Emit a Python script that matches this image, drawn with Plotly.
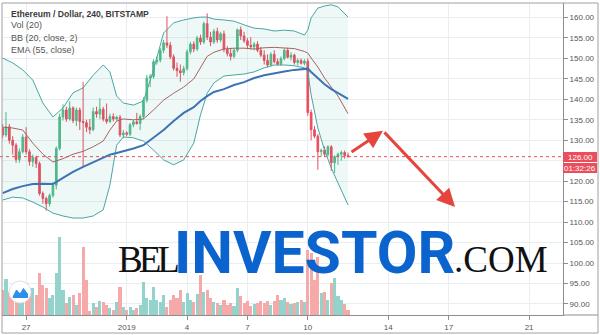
import plotly.graph_objects as go
import pandas as pd

# ---------------- data ----------------
times = pd.date_range("2018-12-25 20:00", periods=104, freq="4h")

opens = [133.0,131.3,133.3,130.0,128.8,125.3,127.2,130.8,127.2,124.8,125.8,124.3,117.0,115.8,114.5,116.5,119.0,128.0,135.7,137.4,
         135.2,137.9,134.8,137.4,134.6,134.3,133.2,132.6,137.0,136.4,137.6,135.2,134.6,135.8,135.2,135.6,131.3,131.8,131.5,133.8,
         134.5,134.1,135.8,139.8,145.2,145.6,149.2,149.6,152.0,153.8,153.2,150.4,147.6,147.0,146.5,147.5,151.6,153.5,152.3,155.0,
         154.0,158.5,155.2,154.0,156.6,154.5,156.0,152.2,151.2,150.5,152.0,157.0,155.5,154.3,153.2,152.8,153.5,152.0,150.8,149.5,
         148.4,151.0,149.2,148.6,150.0,152.0,150.3,150.8,149.0,149.5,148.8,149.3,136.8,132.6,131.0,127.2,127.6,126.6,128.4,124.5,
         126.0,126.6,127.0,126.3]
highs = [134.0,136.9,134.0,131.0,129.3,128.0,131.5,133.2,127.8,126.5,126.2,124.8,117.5,116.2,117.0,119.8,128.5,136.5,138.8,138.2,
         139.5,138.3,138.0,138.0,144.2,135.0,135.2,138.0,138.2,140.3,138.2,139.0,136.5,136.6,136.0,136.2,132.5,132.2,134.2,135.0,
         136.7,136.3,140.5,146.0,146.2,149.8,150.5,152.6,154.5,160.3,154.0,151.0,149.0,148.5,148.2,152.2,154.0,154.2,155.5,155.8,
         159.0,161.0,156.5,157.2,157.5,156.5,156.8,153.0,152.6,152.5,157.3,157.8,156.5,155.0,155.2,154.0,154.2,152.8,152.0,151.0,
         151.5,152.0,150.0,150.5,152.5,152.6,151.5,151.2,150.0,150.0,149.8,150.0,137.5,133.5,131.5,128.0,128.5,128.8,128.8,126.3,
         127.0,127.5,127.5,127.0]
lows = [130.5,130.8,129.2,126.5,124.5,124.5,126.8,126.5,123.8,123.5,123.2,116.5,114.5,112.8,113.8,116.0,118.0,127.5,134.8,134.5,
        134.8,134.2,133.5,132.5,123.6,132.0,131.5,132.2,135.5,135.2,134.6,134.0,134.2,134.6,134.8,130.8,130.5,131.0,131.0,133.2,
        133.8,132.5,135.2,139.2,143.0,145.0,148.5,149.0,151.3,152.5,149.8,147.0,145.5,144.3,145.8,147.0,151.0,151.5,151.8,153.3,
        153.5,154.5,153.0,153.5,153.8,154.0,151.5,150.5,149.5,150.0,151.5,154.5,153.8,152.5,152.2,152.0,151.5,150.3,148.5,147.8,
        148.0,148.8,148.2,148.2,149.5,150.0,149.5,148.5,148.3,148.5,148.3,136.0,130.0,130.5,122.8,126.0,126.0,126.0,122.5,122.0,
        124.0,125.0,125.5,125.8]
closes = [131.3,133.3,130.0,128.8,125.3,127.2,130.8,127.2,124.8,125.8,124.3,117.0,115.8,114.5,116.5,119.0,128.0,135.7,137.4,135.2,
          137.9,134.8,137.4,134.6,134.3,133.2,132.6,137.0,136.4,137.6,135.2,134.6,135.8,135.2,135.6,131.3,131.8,131.5,133.8,134.5,
          134.1,135.8,139.8,145.2,145.6,149.2,149.6,152.0,153.8,153.2,150.4,147.6,147.0,146.5,147.5,151.6,153.5,152.3,155.0,154.0,
          158.5,155.2,154.0,156.6,154.5,156.0,152.2,151.2,150.5,152.0,157.0,155.5,154.3,153.2,152.8,153.5,152.0,150.8,149.5,148.4,
          151.0,149.2,148.6,150.0,152.0,150.3,150.8,149.0,149.5,148.8,149.3,136.8,132.6,131.0,127.2,127.6,126.6,128.4,124.5,126.0,
          126.6,127.0,126.3,126.0]
volume = [25,36,23,25,30,20,25,32,25,27,20,42,30,27,17,20,42,78,25,12,
          18,20,10,22,68,35,4,12,8,14,13,10,7,5,13,28,8,5,8,5,
          7,10,33,17,15,28,15,13,20,8,15,20,17,25,13,22,15,13,21,40,
          23,25,17,13,12,10,15,10,12,9,27,19,12,14,9,11,12,14,12,14,
          10,14,20,15,17,13,11,12,13,15,13,65,62,35,58,22,23,15,32,37,
          19,15,11,5]

ind_idx = [0,3,6,9,12,15,18,21,24,27,30,32,34,36,39,42,45,48,51,54,57,59,61,63,66,69,72,75,78,81,84,87,90,91,92,94,96,98,100,103]
bb_upper = [150.1,148.9,147.2,144.7,139.1,135.7,137.9,141.6,142.8,145.9,148.4,146.7,140.8,139.1,138.6,139.6,147.2,156.2,158.7,159.4,
            159.9,160.1,160.1,159.6,159.4,159.1,158.2,157.4,157.2,156.7,156.9,156.7,155.7,156.9,159.9,162.3,162.8,163.1,162.6,160.1]
bb_lower = [115.4,116.1,115.9,114.9,113.7,112.2,111.5,111.0,111.0,111.5,113.0,119.1,128.8,130.8,130.6,129.8,127.6,125.2,124.0,125.2,
            129.3,136.2,141.5,144.0,145.7,146.0,146.2,146.7,147.7,148.4,148.4,148.2,147.7,146.7,141.1,133.0,127.6,123.2,119.6,114.2]
bb_mid = [133.2,133.0,132.5,129.3,126.6,124.7,125.5,126.6,127.3,128.4,129.8,132.5,134.7,135.2,135.0,135.2,137.4,139.8,141.5,143.0,
          145.0,147.7,150.5,151.5,152.3,152.5,152.5,152.3,152.6,152.7,152.6,152.4,151.7,151.3,150.1,147.9,145.2,143.0,140.8,136.5]
ema55 = [117.1,118.1,118.8,119.3,119.4,119.3,120.8,122.3,123.5,124.7,125.9,126.5,126.9,127.3,128.0,128.8,130.6,132.5,134.7,136.7,
         138.1,139.6,140.8,141.8,142.5,143.5,144.2,145.2,145.9,146.4,146.8,147.2,147.5,147.5,146.7,145.2,143.7,142.5,141.6,140.1]

last_price = 126.0
countdown = "01:32:26"
tick_dates = ["2018-12-27", "2019-01-01", "2019-01-04", "2019-01-07", "2019-01-10", "2019-01-14", "2019-01-17", "2019-01-21"]
tick_text = ["27", "2019", "4", "7", "10", "14", "17", "21"]
price_ticks = [90, 95, 100, 105, 110, 115, 120, 125, 130, 135, 140, 145, 150, 155, 160]
hidden_price_ticks = [125]  # covered by the last-price label in the reference
arrow_x = ["2019-01-12 02:25", "2019-01-13 17:45", "2019-01-17 07:40"]
arrow_y = [126.9, 132.3, 113.7]
legend_lines = ["Ethereum / Dollar, 240, BITSTAMP", "Vol (20)", "BB (20, close, 2)", "EMA (55, close)"]

# ---------------- styling ----------------
W, H = 600, 335
ML, MR, MT, MB = 2, 37, 3, 20
UP, DN = "#53B987", "#EB4D5C"
VUP, VDN = "#93D3CB", "#F6A9A9"
GRID = "#E9EEF2"
AX = "#8E8E8E"
FONT = "Liberation Sans"


def px(x):
    return (x - ML) / (W - ML - MR)


def py(y):
    return (H - MB - y) / (H - MT - MB)


ind_x = [times[i] for i in ind_idx]
vol_colors = [VUP if c >= o else VDN for o, c in zip(opens, closes)]
price_tick_text = ["" if v in hidden_price_ticks else f"{v:.2f}" for v in price_ticks]

fig = go.Figure()
fig.add_trace(go.Scatter(x=ind_x, y=bb_lower, mode="lines", line=dict(width=0),
                         hoverinfo="skip", showlegend=False))
fig.add_trace(go.Scatter(x=ind_x, y=bb_upper, mode="lines", line=dict(width=0),
                         fill="tonexty", fillcolor="rgba(38,166,154,0.08)",
                         hoverinfo="skip", showlegend=False))
fig.add_trace(go.Bar(x=times, y=volume, marker=dict(color=vol_colors, line=dict(width=0)),
                     width=4 * 3600 * 1000 * 0.92, yaxis="y2", showlegend=False))
fig.add_trace(go.Candlestick(x=times, open=opens, high=highs, low=lows, close=closes,
                             increasing=dict(line=dict(color=UP, width=1), fillcolor=UP),
                             decreasing=dict(line=dict(color=DN, width=1), fillcolor=DN),
                             whiskerwidth=0, showlegend=False))
fig.add_trace(go.Scatter(x=ind_x, y=bb_upper, mode="lines", line=dict(color="#4AA6A1", width=1),
                         showlegend=False))
fig.add_trace(go.Scatter(x=ind_x, y=bb_lower, mode="lines", line=dict(color="#4AA6A1", width=1),
                         showlegend=False))
fig.add_trace(go.Scatter(x=ind_x, y=bb_mid, mode="lines", line=dict(color="#A8645E", width=1),
                         showlegend=False))
fig.add_trace(go.Scatter(x=ind_x, y=ema55, mode="lines", line=dict(color="#3D73B3", width=2),
                         showlegend=False))

shapes = [
    dict(type="line", xref="paper", yref="y", x0=px(0), x1=1, y0=last_price, y1=last_price,
         line=dict(color=DN, width=1, dash="dot")),
    dict(type="rect", xref="paper", yref="paper", x0=px(2), x1=px(598), y0=py(333), y1=py(3),
         line=dict(color="#A0A0A0", width=1)),
    dict(type="line", xref="paper", yref="paper", x0=1, x1=px(598), y0=0, y1=0,
         line=dict(color=AX, width=1)),
    # price label boxes
    dict(type="rect", xref="paper", yref="paper", x0=1, x1=px(597), y0=py(162), y1=py(152),
         fillcolor=DN, line=dict(width=0)),
    dict(type="rect", xref="paper", yref="paper", x0=1, x1=px(597), y0=py(173), y1=py(163),
         fillcolor=DN, line=dict(width=0)),
    # TradingView badge
    dict(type="circle", xref="paper", yref="paper", x0=px(9), x1=px(31), y0=py(303), y1=py(281),
         fillcolor="white", line=dict(color="#DDE1E6", width=1)),
    dict(type="path", xref="paper", yref="paper",
         path="M {} {} L {} {} L {} {} L {} {} L {} {} L {} {} L {} {} Z".format(
             px(13), py(297), px(16.5), py(290), px(20), py(294), px(23.5), py(288.5),
             px(27.5), py(294), px(27.5), py(297.5), px(13), py(297.5)),
         fillcolor="#2C8FEA", line=dict(color="#2C8FEA", width=1)),
]

ann = []
ann.append(dict(xref="paper", yref="paper", x=px(9), y=py(14), xanchor="left", yanchor="middle",
                text="<b>" + legend_lines[0] + "</b>", showarrow=False,
                font=dict(family=FONT, size=8.6, color="#3A3A3A")))
for k, yy in zip(range(1, 4), [25.5, 37.5, 49.5]):
    ann.append(dict(xref="paper", yref="paper", x=px(9), y=py(yy), xanchor="left", yanchor="middle",
                    text=legend_lines[k], showarrow=False,
                    font=dict(family=FONT, size=9, color="#555555")))
# watermark
ann.append(dict(xref="paper", yref="paper", x=px(180), y=py(259), xanchor="right", yanchor="middle",
                text="<span style='letter-spacing:-4px'>BEL</span>", showarrow=False,
                font=dict(family="Liberation Serif", size=37, color="#111111")))
ann.append(dict(xref="paper", yref="paper", x=px(171.5), y=py(252.5), xanchor="left", yanchor="middle",
                text="<b>INVESTOR</b>", showarrow=False,
                font=dict(family="Roboto", size=59, color="#0B63CE")))
ann.append(dict(xref="paper", yref="paper", x=px(452), y=py(259), xanchor="left", yanchor="middle",
                text=".COM", showarrow=False,
                font=dict(family="Liberation Serif", size=37, color="#111111")))
# price labels (text on the boxes drawn above)
ann.append(dict(xref="paper", yref="paper", x=px(580), y=py(157), xanchor="center", yanchor="middle",
                text=f"{last_price:.2f}", showarrow=False, borderpad=0,
                font=dict(family=FONT, size=8, color="white")))
ann.append(dict(xref="paper", yref="paper", x=px(580), y=py(168), xanchor="center", yanchor="middle",
                text=countdown, showarrow=False, borderpad=0,
                font=dict(family=FONT, size=8, color="white")))
# arrows
for i in range(2):
    ann.append(dict(xref="x", yref="y", axref="x", ayref="y", x=arrow_x[i + 1], y=arrow_y[i + 1],
                    ax=arrow_x[i], ay=arrow_y[i], text="", showarrow=True, arrowhead=2,
                    arrowsize=1.2, arrowwidth=3, arrowcolor="#E5453D"))

fig.update_layout(
    width=W, height=H, margin=dict(l=ML, r=MR, t=MT, b=MB),
    paper_bgcolor="white", plot_bgcolor="white", showlegend=False,
    bargap=0, barmode="overlay",
    shapes=shapes, annotations=ann,
    xaxis=dict(type="date", range=["2018-12-25 19:15", "2019-01-22 16:25"],
               tickvals=tick_dates, ticktext=tick_text, showgrid=True, gridcolor=GRID,
               showline=True, linecolor=AX, ticks="outside", ticklen=4, tickcolor=AX,
               tickfont=dict(family=FONT, size=8, color="#555555"),
               rangeslider=dict(visible=False), zeroline=False),
    yaxis=dict(side="right", range=[87.31, 163.54], tickvals=price_ticks, ticktext=price_tick_text,
               showgrid=True, gridcolor=GRID, showline=True, linecolor=AX, ticks="outside",
               ticklen=4, tickcolor=AX, zeroline=False,
               tickfont=dict(family=FONT, size=8, color="#555555")),
    yaxis2=dict(overlaying="y", range=[0, 312], visible=False, fixedrange=True),
)

fig.write_html("out.html")
